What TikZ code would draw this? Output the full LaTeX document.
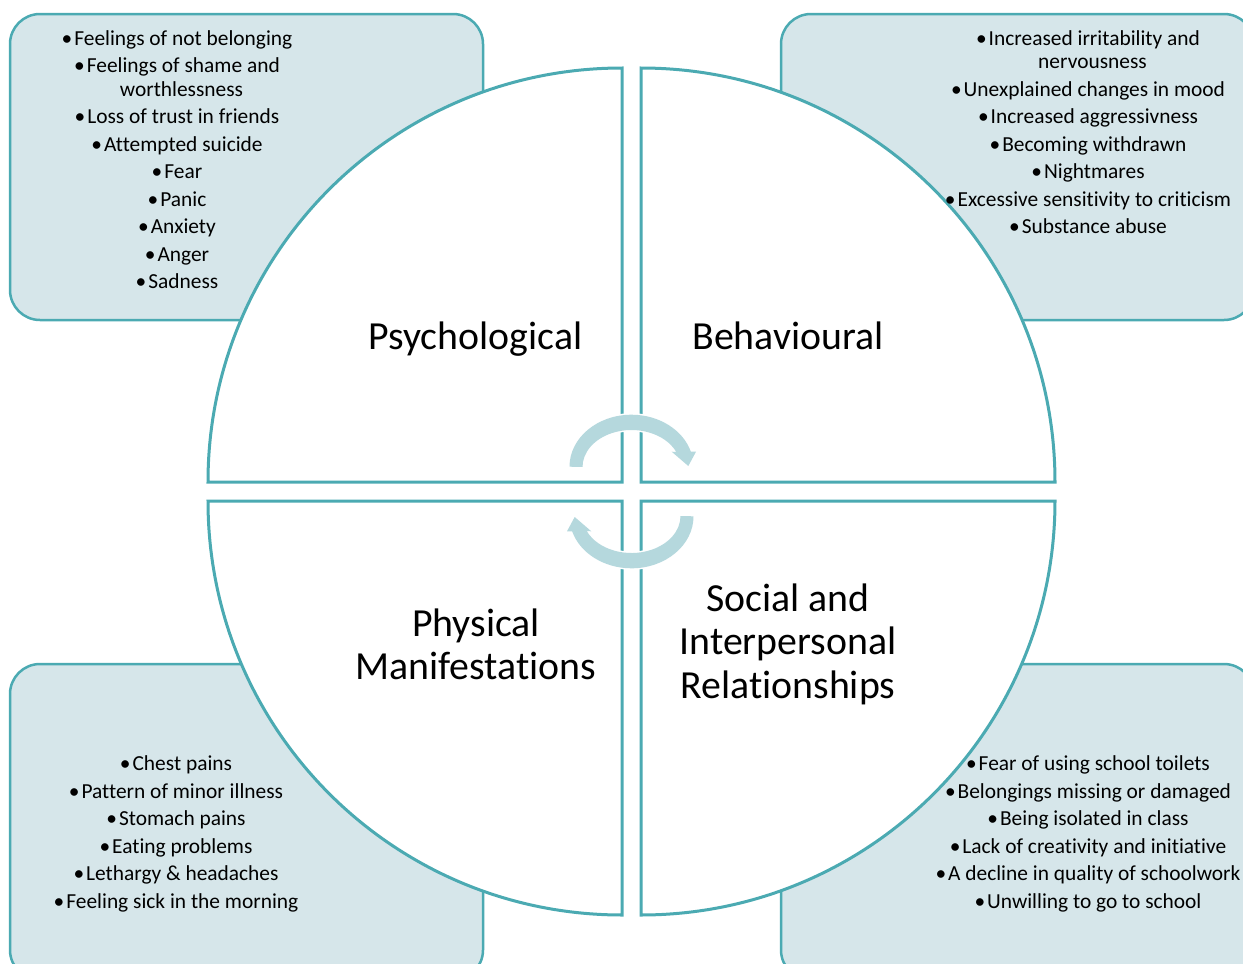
\documentclass[tikz,border=0pt]{standalone}
\usepackage{fontspec}
\setmainfont{Carlito}[Ligatures={NoCommon}]
\definecolor{tealline}{RGB}{75,170,178}
\definecolor{boxfill}{RGB}{214,230,234}
\definecolor{arrowc}{RGB}{181,216,221}
\newcommand\upperarrowpath{(569.5,466.7) arc[start angle=180, end angle=16.8, x radius=62pt, y radius=52pt] -- (696,451.7) -- (688.3,466) -- (671.7,451.7) -- (676.3,452) arc[start angle=23.9, end angle=180, x radius=49pt, y radius=37pt] -- cycle}
\newcommand\lowerarrowpath{(693.5,516.3) arc[start angle=0, end angle=-163.2, x radius=62pt, y radius=52pt] -- (567,531.3) -- (574.7,517) -- (591.3,531.3) -- (586.7,531) arc[start angle=203.9, end angle=360, x radius=49pt, y radius=37pt] -- cycle}
\newcommand\bul{\textbullet\hspace{2pt}}
\tikzset{
  infobox/.style={draw=tealline, fill=boxfill, line width=2.5pt, rounded corners=30pt},
  quadrant/.style={draw=tealline, fill=white, line width=3pt, line join=miter},
  listtext/.style={inner sep=0pt, align=center, anchor=north, font=\fontsize{21.4}{23.5}\selectfont},
  labeltext/.style={inner sep=0pt, align=center, anchor=north, font=\fontsize{39.8}{43.6}\selectfont},
}
\begin{document}
\begin{tikzpicture}[x=1pt,y=-1pt]
\useasboundingbox (0,0) rectangle (1243,964);
\clip (0,0) rectangle (1243,964);
% info boxes
\draw[infobox] (10,14) rectangle (483,320);
\draw[infobox] (781,14) rectangle (1254,320);
\draw[infobox] (10,664) rectangle (483,980);
\draw[infobox] (781,664) rectangle (1254,980);
% quadrants
\draw[quadrant] (622,482) -- (208,482) arc[start angle=180, end angle=90, radius=414pt] -- cycle;
\draw[quadrant] (641,482) -- (641,68) arc[start angle=90, end angle=0, radius=414pt] -- cycle;
\draw[quadrant] (622,501) -- (208,501) arc[start angle=180, end angle=270, radius=414pt] -- cycle;
\draw[quadrant] (641,501) -- (1055,501) arc[start angle=0, end angle=-90, radius=414pt] -- cycle;
% cycle arrows
\draw[white, line width=3pt] \upperarrowpath;
\fill[arrowc] \upperarrowpath;
\draw[white, line width=3pt] \lowerarrowpath;
\fill[arrowc] \lowerarrowpath;
% quadrant labels
\node[labeltext] (psy) at (475.5,315.8) {\rule{0pt}{33pt}Psychological};
\node[labeltext] (beh) at (788,315.8) {\rule{0pt}{33pt}Behavioural};
\node[labeltext] (phy) at (476,603) {\rule{0pt}{33pt}Physical\\Manifestations};
\node[labeltext] (soc) at (788,578) {\rule{0pt}{33pt}Social and\\Interpersonal\\Relationships};
% lists
\node[listtext] (psylist) at (177,28) {\rule{0pt}{17pt}\bul Feelings of not belonging\\[4pt]
\bul Feelings of shame and\\\hspace*{9pt}worthlessness\\[4pt]
\bul Loss of trust in friends\\[4pt]
\bul Attempted suicide\\[4pt]
\bul Fear\\[4pt]
\bul Panic\\[4pt]
\bul Anxiety\\[4pt]
\bul Anger\\[4pt]
\bul Sadness};
\node[listtext] (behlist) at (1088,28) {\rule{0pt}{17pt}\bul Increased irritability and\\\hspace*{9pt}nervousness\\[4pt]
\bul Unexplained changes in mood\\[4pt]
\bul Increased aggressivness\\[4pt]
\bul Becoming withdrawn\\[4pt]
\bul Nightmares\\[4pt]
\bul Excessive sensitivity to criticism\\[4pt]
\bul Substance abuse};
\node[listtext] (phylist) at (176,753.7) {\rule{0pt}{17pt}\bul Chest pains\\[4pt]
\bul Pattern of minor illness\\[4pt]
\bul Stomach pains\\[4pt]
\bul Eating problems\\[4pt]
\bul Lethargy \& headaches\\[4pt]
\bul Feeling sick in the morning};
\node[listtext] (soclist) at (1088,753.7) {\rule{0pt}{17pt}\bul Fear of using school toilets\\[4pt]
\bul Belongings missing or damaged\\[4pt]
\bul Being isolated in class\\[4pt]
\bul Lack of creativity and initiative\\[4pt]
\bul A decline in quality of schoolwork\\[4pt]
\bul Unwilling to go to school};
\end{tikzpicture}
\end{document}
